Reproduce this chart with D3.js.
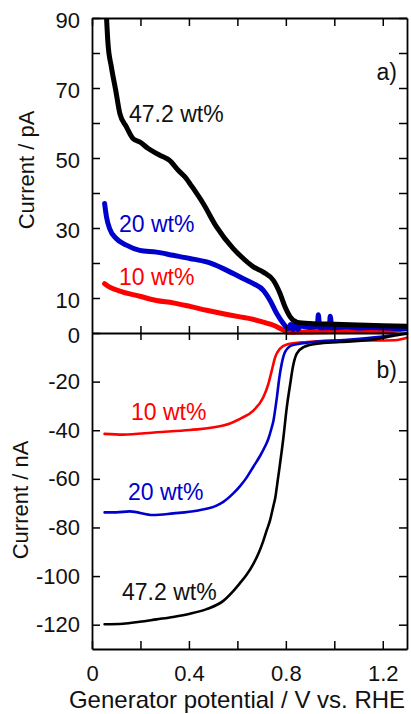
<!DOCTYPE html>
<html><head><meta charset="utf-8">
<script src="https://cdn.jsdelivr.net/npm/d3@7"></script>
<style>
html,body{margin:0;padding:0;background:#fff;}
svg text{font-family:"Liberation Sans",Arial,sans-serif;}
</style></head>
<body>
<svg id="c" width="411" height="714"></svg>
<script>
// ---------- data ----------
// Panel a) collector current (pA)
const aBlackV = [0.06,0.066,0.08,0.098,0.115,0.142,0.17,0.197,0.232,0.28,0.32,0.356,0.39,0.404,0.459,0.514,0.583,0.61,0.666,0.707,0.749,0.776,0.797,0.818,0.845,0.9,1.0,1.1,1.2,1.3];
const aBlackI = [90,82.7,76,69.3,62.7,58.9,55.5,54.6,52.7,50.8,49.3,46.5,44.1,42.7,37,30.3,24.1,22.2,18.9,17.4,15,11.3,7.4,4.6,3.1,2.7,2.5,2.3,2.1,1.9];
const aBlueV = [0.052,0.06,0.073,0.1,0.142,0.197,0.266,0.335,0.404,0.473,0.542,0.611,0.666,0.707,0.735,0.763,0.79,0.81,0.82,0.83,0.84,0.85,0.86,0.9,0.93,0.934,0.94,0.98,0.983,0.99,1.05,1.1,1.15,1.2,1.25,1.3];
const aBlueI = [37,33.1,29.8,27,25.1,23.6,23.1,22.2,21.3,20.3,18.4,16,14.1,12.2,9.3,5.5,2.7,1.3,2.4,0.9,3.2,1.0,2.0,1.6,1.8,5.2,1.5,1.6,4.8,1.5,1.8,1.4,1.6,1.5,1.3,1.2];
const aRedV = [0.052,0.073,0.128,0.197,0.266,0.335,0.404,0.473,0.542,0.611,0.652,0.707,0.749,0.79,0.81,0.9,1.0,1.1,1.2,1.25,1.3];
const aRedI = [14.1,13.1,11.7,10.5,9.3,8.6,7.6,6.5,5.5,4.6,4.1,3.1,2.2,0.8,0.2,0.3,0.4,0.4,0.5,0.8,1.3];
// Panel b) generator current (nA)
const bRedV = [0.052,0.128,0.266,0.404,0.542,0.611,0.666,0.707,0.728,0.742,0.756,0.776,0.804,0.887,1.024,1.162,1.25,1.3];
const bRedI = [-41.5,-41.8,-40.8,-39.9,-38.1,-35.3,-31.9,-26.4,-20.9,-15.4,-9.9,-6.4,-4.7,-3.7,-3.0,-3.1,-3.0,-2.0];
const bBlueV = [0.052,0.1,0.156,0.252,0.335,0.432,0.514,0.542,0.583,0.611,0.638,0.666,0.694,0.715,0.728,0.74,0.749,0.756,0.763,0.773,0.783,0.797,0.825,0.887,1.024,1.19,1.286,1.3];
const bBlueI = [-73.8,-73.8,-73.4,-74.9,-74.2,-73.1,-71,-69.5,-66,-63,-59.5,-55,-50.5,-46.5,-43.5,-39.5,-36,-31.5,-26.5,-18.5,-12.6,-7.8,-5.1,-4.0,-3.0,-1.6,-0.3,-0.2];
const bBlackV = [0.052,0.128,0.197,0.266,0.335,0.404,0.473,0.542,0.58,0.61,0.638,0.666,0.69,0.707,0.72,0.735,0.749,0.756,0.766,0.773,0.79,0.804,0.818,0.829,0.845,0.873,0.928,1.024,1.162,1.259,1.3];
const bBlackI = [-119.8,-119.6,-118.8,-117.8,-116.8,-115.5,-113.6,-110.2,-106.5,-103,-99.5,-95,-90,-85.5,-81.5,-77,-71,-68,-61,-56,-43,-30.5,-21,-14,-8.5,-5.8,-4.4,-3.7,-2.7,-0.9,-0.3];

const xTicks = [0,0.2,0.4,0.6,0.8,1.0,1.2];
const xTickLabels = ["0","","0.4","","0.8","","1.2"];
const aTicks = [0,10,20,30,40,50,60,70,80,90];
const aTickLabels = ["0","10","","30","","50","","70","","90"];
const bTicks = [-120,-100,-80,-60,-40,-20];
const bTickLabels = ["-120","-100","-80","-60","-40","-20"];

// ---------- drawing ----------
const svg = d3.select("#c");
const L=92, R=407, T=18, Z=333, B=649;
const x = d3.scaleLinear().domain([0,1.3]).range([L,R]);
const ya = d3.scaleLinear().domain([0,90]).range([Z,T]);
const yb = d3.scaleLinear().domain([-130,0]).range([B,Z]);
const FS = 22;

function curve(V,I,ys,color,w){
  const pts = V.map((v,i)=>[v,I[i]]);
  svg.append("path").datum(pts)
    .attr("fill","none").attr("stroke",color).attr("stroke-width",w)
    .attr("stroke-linejoin","round").attr("stroke-linecap","round")
    .attr("d", d3.line().x(d=>x(d[0])).y(d=>ys(d[1])).curve(d3.curveMonotoneX));
}
svg.append("clipPath").attr("id","ca").append("rect").attr("x",L).attr("y",T).attr("width",R-L).attr("height",Z-T+3);

const ga = svg.append("g").attr("clip-path","url(#ca)");
function curveA(V,I,color,w){
  const pts = V.map((v,i)=>[v,I[i]]);
  ga.append("path").datum(pts)
    .attr("fill","none").attr("stroke",color).attr("stroke-width",w)
    .attr("stroke-linejoin","round").attr("stroke-linecap","round")
    .attr("d", d3.line().x(d=>x(d[0])).y(d=>ya(d[1])).curve(d3.curveMonotoneX));
}
curveA(aRedV,aRedI,"#ff0000",5);
curveA(aBlueV,aBlueI,"#0000cc",5);
curveA(aBlackV,aBlackI,"#000000",5);

curve(bRedV,bRedI,yb,"#ff0000",2.6);
curve(bBlueV,bBlueI,yb,"#0000cc",2.6);
curve(bBlackV,bBlackI,yb,"#000000",2.6);

function styleAxis(g){
  g.select(".domain").attr("stroke","#000").attr("stroke-width",1.8);
  g.selectAll(".tick line").attr("stroke","#000").attr("stroke-width",1.5);
  g.selectAll("text").attr("font-size",FS).attr("fill","#111").attr("font-family","Liberation Sans, Arial, sans-serif");
}
svg.append("g").attr("transform",`translate(${L},0)`)
  .call(d3.axisLeft(ya).tickValues(aTicks).tickSize(-8).tickPadding(12).tickSizeOuter(0)
    .tickFormat((d,i)=>aTickLabels[i]))
  .call(styleAxis).call(g=>g.selectAll("text").attr("dy","0.45em"));
svg.append("g").attr("transform",`translate(${L},0)`)
  .call(d3.axisLeft(yb).tickValues(bTicks).tickSize(-8).tickPadding(12).tickSizeOuter(0)
    .tickFormat((d,i)=>bTickLabels[i]))
  .call(styleAxis);
svg.append("g").attr("transform",`translate(${R},0)`)
  .call(d3.axisRight(ya).tickValues(aTicks).tickSize(-8).tickSizeOuter(0).tickFormat(""))
  .call(styleAxis);
svg.append("g").attr("transform",`translate(${R},0)`)
  .call(d3.axisRight(yb).tickValues(bTicks).tickSize(-8).tickSizeOuter(0).tickFormat(""))
  .call(styleAxis);
svg.append("g").attr("transform",`translate(0,${T})`)
  .call(d3.axisTop(x).tickValues(xTicks).tickSize(-8).tickSizeOuter(0).tickFormat(""))
  .call(styleAxis);
svg.append("g").attr("transform",`translate(0,${B})`)
  .call(d3.axisBottom(x).tickValues(xTicks).tickSize(-8).tickPadding(16).tickSizeOuter(0)
    .tickFormat((d,i)=>xTickLabels[i]))
  .call(styleAxis);
svg.append("g").attr("transform",`translate(0,${Z})`)
  .call(d3.axisBottom(x).tickValues(xTicks.slice(1)).tickSize(7).tickSizeOuter(0).tickFormat(""))
  .call(styleAxis)
  .call(g=>g.selectAll(".tick line").attr("y1",-7))
  .call(g=>g.select(".domain").attr("stroke-width",2.2));

svg.append("text").attr("transform","translate(237,708)").attr("text-anchor","middle")
  .attr("font-size",24).attr("fill","#111").text("Generator potential / V vs. RHE");
svg.append("text").attr("transform","translate(34,170) rotate(-90)").attr("text-anchor","middle")
  .attr("font-size",22).attr("fill","#111").text("Current / pA");
svg.append("text").attr("transform","translate(28,500) rotate(-90)").attr("text-anchor","middle")
  .attr("font-size",22).attr("fill","#111").text("Current / nA");

svg.append("text").attr("x",397).attr("y",80).attr("text-anchor","end").attr("font-size",23).attr("fill","#111").text("a)");
svg.append("text").attr("x",397).attr("y",378).attr("text-anchor","end").attr("font-size",23).attr("fill","#111").text("b)");

const ann = [
  {t:"47.2 wt%",x:129,y:122,c:"#111"},
  {t:"20 wt%",x:119,y:232,c:"#0000cc"},
  {t:"10 wt%",x:119,y:285,c:"#ff0000"},
  {t:"10 wt%",x:131,y:420,c:"#ff0000"},
  {t:"20 wt%",x:128,y:500,c:"#0000cc"},
  {t:"47.2 wt%",x:122,y:600,c:"#111"}
];
ann.forEach(a=>svg.append("text").attr("x",a.x).attr("y",a.y).attr("font-size",23).attr("fill",a.c).text(a.t));
</script>
</body></html>
